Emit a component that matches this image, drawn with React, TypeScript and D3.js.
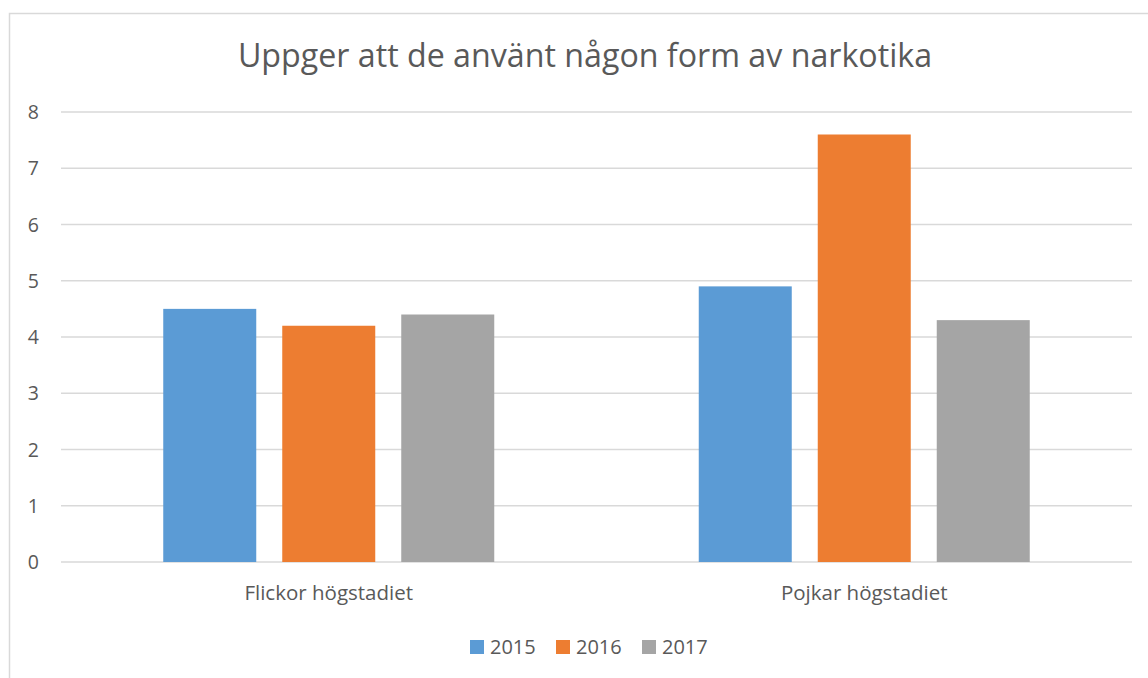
import React, { useEffect, useRef } from 'react';
import * as d3 from 'd3';

const categories = ['Flickor högstadiet', 'Pojkar högstadiet'];
const seriesNames = ['2015', '2016', '2017'];
const values2015 = [4.5, 4.9];
const values2016 = [4.2, 7.6];
const values2017 = [4.4, 4.3];
const colors = ['#5b9bd5', '#ed7d31', '#a5a5a5'];
const yTicks = [0, 1, 2, 3, 4, 5, 6, 7, 8];
const title = 'Uppger att de använt någon form av narkotika';

const W = 1148;
const H = 678;
const FONT = '"Open Sans", Lato, sans-serif';
const TEXT = '#595959';

const App = () => {
  const svgRef = useRef<SVGSVGElement>(null);

  useEffect(() => {
    const svg = d3.select(svgRef.current);
    svg.selectAll('*').remove();

    // chart frame (right/bottom edges fall outside the picture)
    svg.append('rect')
      .attr('x', 9.5).attr('y', 13.5)
      .attr('width', W).attr('height', H)
      .attr('fill', '#fff')
      .attr('stroke', '#d9d9d9')
      .attr('stroke-width', 1.5);

    const plot = { left: 61, right: 1132, top: 112, bottom: 562 };

    const x0 = d3.scaleBand().domain(categories)
      .range([plot.left, plot.right]);
    const y = d3.scaleLinear().domain([0, 8]).range([plot.bottom, plot.top]);

    const barW = 93;
    const step = 119;
    const x1 = d3.scaleOrdinal<string, number>()
      .domain(seriesNames)
      .range(seriesNames.map((_, i) => (i - 1) * step - barW / 2));

    svg.append('text')
      .attr('x', 585).attr('y', 67)
      .attr('text-anchor', 'middle')
      .attr('font-family', FONT).attr('font-size', 32.2)
      .attr('fill', TEXT)
      .text(title);

    const grid = svg.append('g');
    grid.selectAll('line').data(yTicks).enter().append('line')
      .attr('x1', plot.left).attr('x2', plot.right)
      .attr('y1', d => y(d)).attr('y2', d => y(d))
      .attr('stroke', '#d9d9d9').attr('stroke-width', 1.5);

    grid.selectAll('text').data(yTicks).enter().append('text')
      .attr('x', 39).attr('y', d => y(d))
      .attr('dy', '0.36em')
      .attr('text-anchor', 'end')
      .attr('font-family', FONT).attr('font-size', 19.5)
      .attr('fill', TEXT)
      .text(d => d);

    const series = [values2015, values2016, values2017];
    series.forEach((vals, si) => {
      svg.append('g').selectAll('rect').data(categories).enter().append('rect')
        .attr('x', c => x0(c)! + x0.bandwidth() / 2 + x1(seriesNames[si]))
        .attr('y', (c, i) => y(vals[i]))
        .attr('width', barW)
        .attr('height', (c, i) => y(0) - y(vals[i]))
        .attr('fill', colors[si]);
    });

    svg.append('g').selectAll('text').data(categories).enter().append('text')
      .attr('x', c => x0(c)! + x0.bandwidth() / 2)
      .attr('y', 600)
      .attr('text-anchor', 'middle')
      .attr('font-family', FONT).attr('font-size', 20.5)
      .attr('fill', TEXT)
      .text(c => c);

    const legend = svg.append('g');
    const legX = [470, 556, 642];
    seriesNames.forEach((s, i) => {
      legend.append('rect')
        .attr('x', legX[i]).attr('y', 640)
        .attr('width', 14).attr('height', 14)
        .attr('fill', colors[i]);
      legend.append('text')
        .attr('x', legX[i] + 20).attr('y', 654)
        .attr('font-family', FONT).attr('font-size', 20)
        .attr('fill', TEXT)
        .text(s);
    });
  }, []);

  return (
    <div style={{ position: 'fixed', left: 0, top: 0, width: W, height: H, background: '#fff' }}>
      <svg ref={svgRef} width={W} height={H}></svg>
    </div>
  );
};

export default App;
